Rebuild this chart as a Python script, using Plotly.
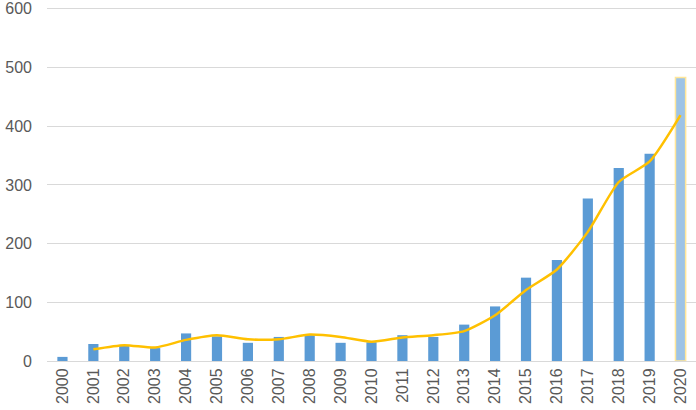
import plotly.graph_objects as go

years = [str(y) for y in range(2000, 2021)]
counts = [7, 29, 27, 22, 47, 42, 31, 41, 44, 31, 32, 44, 41, 62, 93, 142, 172, 277, 329, 353, 483]
trend_years = years[1:]
trend_vals = [20, 27, 23, 36, 44, 37, 37, 45, 41, 33, 40, 44, 51, 78, 121, 156, 220, 305, 340, 419]
y_ticks = [0, 100, 200, 300, 400, 500, 600]

bar_colors = ["#5B9BD5"] * (len(years) - 1) + ["#9DC3E6"]
bar_line_colors = ["rgba(0,0,0,0)"] * (len(years) - 1) + ["#FFE699"]

fig = go.Figure()
fig.add_trace(go.Bar(
    x=years, y=counts,
    marker=dict(color=bar_colors, line=dict(color=bar_line_colors, width=1.5)),
    width=0.33,
    hoverinfo="x+y",
))
fig.add_trace(go.Scatter(
    x=trend_years, y=trend_vals,
    mode="lines",
    line=dict(color="#FFC000", width=2.5, shape="spline", smoothing=0.6),
))

fig.update_layout(
    width=696, height=410,
    margin=dict(l=47, r=0, t=3, b=49, autoexpand=False),
    plot_bgcolor="white", paper_bgcolor="white",
    showlegend=False,
    font=dict(family="Liberation Sans, Arial, sans-serif", size=16, color="#595959"),
)
fig.update_xaxes(
    type="category", range=[-0.5, 20.5],
    tickangle=-90, showgrid=False,
    showline=True, linecolor="#D9D9D9", linewidth=1,
    ticks="", tickfont=dict(size=16, color="#595959"),
    automargin=False,
)
fig.update_yaxes(
    range=[0, 610], tickvals=y_ticks,
    showgrid=True, gridcolor="#D9D9D9", gridwidth=1,
    zeroline=False, showline=False, ticks="",
    ticklabelstandoff=14,
    tickfont=dict(size=16, color="#595959"),
    automargin=False,
)

fig.write_html("out.html", config={"displayModeBar": False},
               post_script="document.body.style.margin='0';")
